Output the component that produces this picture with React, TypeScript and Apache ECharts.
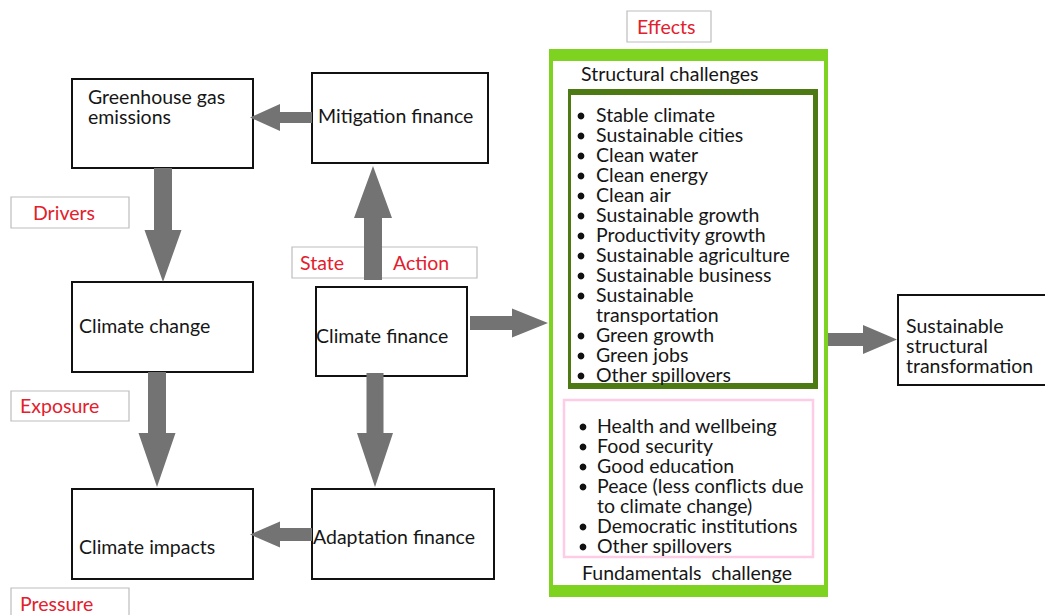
import React, { useEffect, useRef } from "react";
import * as echarts from "echarts";

const boxLabels = {
  ghg: ["Greenhouse gas", "emissions"],
  mitigation: ["Mitigation finance"],
  climateChange: ["Climate change"],
  climateFinance: ["Climate finance"],
  impacts: ["Climate impacts"],
  adaptation: ["Adaptation finance"],
  sst: ["Sustainable", "structural", "transformation"],
};
const redLabels = ["Drivers", "Exposure", "Pressure", "State", "Action", "Effects"];
const structuralTitle = "Structural challenges";
const structuralItems = [
  ["Stable climate"],
  ["Sustainable cities"],
  ["Clean water"],
  ["Clean energy"],
  ["Clean air"],
  ["Sustainable growth"],
  ["Productivity growth"],
  ["Sustainable agriculture"],
  ["Sustainable business"],
  ["Sustainable", "transportation"],
  ["Green growth"],
  ["Green jobs"],
  ["Other spillovers"],
];
const fundamentalItems = [
  ["Health and wellbeing"],
  ["Food security"],
  ["Good education"],
  ["Peace (less conflicts due", "to climate change)"],
  ["Democratic institutions"],
  ["Other spillovers"],
];
const fundamentalTitle = "Fundamentals  challenge";

const FONT = "Lato, 'Noto Sans', sans-serif";
const TXT = "#161616";
const RED = "#e3202c";
const ARROW = "#737373";
const FS = 19.5;
const LH = 20;

function box(x: number, y: number, w: number, h: number, stroke = "#111", lw = 2) {
  return { type: "rect", shape: { x, y, width: w, height: h }, style: { fill: "#fff", stroke, lineWidth: lw } };
}
// multi-line text block; y is the centre of the first line
function block(x: number, y: number, arr: string[], fill = TXT) {
  return {
    type: "text",
    x,
    y: y - LH / 2 - 1,
    style: {
      text: arr.join("\n"),
      fill,
      font: `${FS}px ${FONT}`,
      lineHeight: LH,
      textVerticalAlign: "top",
      verticalAlign: "top",
    },
  };
}
function txt(x: number, y: number, text: string, fill = TXT) {
  return block(x, y, [text], fill);
}
function arrowH(x1: number, x2: number, y: number, sh: number, hh: number, baseX: number) {
  return {
    type: "polygon",
    shape: {
      points: [
        [x1, y - sh / 2],
        [baseX, y - sh / 2],
        [baseX, y - hh / 2],
        [x2, y],
        [baseX, y + hh / 2],
        [baseX, y + sh / 2],
        [x1, y + sh / 2],
      ],
    },
    style: { fill: ARROW },
  };
}
function arrowV(y1: number, y2: number, x: number, sw: number, hw: number, baseY: number) {
  return {
    type: "polygon",
    shape: {
      points: [
        [x - sw / 2, y1],
        [x - sw / 2, baseY],
        [x - hw / 2, baseY],
        [x, y2],
        [x + hw / 2, baseY],
        [x + sw / 2, baseY],
        [x + sw / 2, y1],
      ],
    },
    style: { fill: ARROW },
  };
}
function bullets(x: number, tx: number, y: number, items: string[][]) {
  const out: any[] = [];
  const all: string[] = [];
  let row = 0;
  items.forEach((it) => {
    out.push({ type: "circle", shape: { cx: x, cy: y + row * LH + 1, r: 3.4 }, style: { fill: "#111" } });
    it.forEach((t) => {
      all.push(t);
      row++;
    });
  });
  out.push(block(tx, y, all));
  return out;
}

export default function App() {
  const ref = useRef<HTMLDivElement>(null);
  useEffect(() => {
    document.body.style.margin = "0";
    const chart = echarts.init(ref.current!, undefined, { renderer: "svg" });
    const elements: any[] = [
      box(72, 79, 181, 89),
      block(88, 97, boxLabels.ghg),
      box(312, 73, 176, 90),
      block(318, 116, boxLabels.mitigation),
      box(72, 282, 181, 90),
      block(79, 326, boxLabels.climateChange),
      box(316, 287, 151, 89),
      block(316, 336, boxLabels.climateFinance),
      box(72, 489, 181, 90),
      block(79, 547, boxLabels.impacts),
      box(312, 489, 182, 90),
      block(313, 537, boxLabels.adaptation),
      box(11, 197, 118, 31, "#bdbdbd", 1.2),
      txt(33, 213, redLabels[0], RED),
      box(11, 391, 118, 30, "#bdbdbd", 1.2),
      txt(20, 406, redLabels[1], RED),
      box(11, 588, 118, 40, "#bdbdbd", 1.2),
      txt(20, 604, redLabels[2], RED),
      box(292, 247, 185, 31, "#bdbdbd", 1.2),
      txt(300, 263, redLabels[3], RED),
      txt(393, 263, redLabels[4], RED),
      box(627, 11, 84, 31, "#bdbdbd", 1.2),
      txt(637, 27, redLabels[5], RED),
      arrowH(312, 250, 117.5, 11, 27, 280),
      arrowV(168, 282, 163, 18, 37, 230),
      arrowV(280, 166, 373, 18, 38, 218),
      arrowV(372, 487, 157, 18, 37, 433),
      arrowV(373, 487, 375, 17, 36, 433),
      arrowH(312, 250, 534.5, 13, 26, 280),
      arrowH(470, 548, 323, 14, 29, 512),
      arrowH(827, 897, 339.5, 13, 29, 863),
      { type: "rect", shape: { x: 549, y: 49, width: 279, height: 548 }, style: { fill: "#7ed321" } },
      { type: "rect", shape: { x: 553, y: 61, width: 271, height: 524 }, style: { fill: "#fff" } },
      txt(581, 74, structuralTitle),
      { type: "rect", shape: { x: 568, y: 89, width: 250, height: 300 }, style: { fill: "#4d7a12" } },
      { type: "rect", shape: { x: 571, y: 95, width: 242, height: 288 }, style: { fill: "#fff" } },
      ...bullets(581, 596, 115, structuralItems),
      box(564, 400, 249, 157, "#ffcce6", 2.5),
      ...bullets(583, 597, 426, fundamentalItems),
      txt(582, 573, fundamentalTitle),
      box(898, 295, 150, 90),
      block(906, 326, boxLabels.sst),
    ];
    chart.setOption({
      animation: false,
      backgroundColor: "#fff",
      graphic: { elements },
    });
    return () => chart.dispose();
  }, []);
  return <div ref={ref} style={{ width: 1045, height: 615 }} />;
}
